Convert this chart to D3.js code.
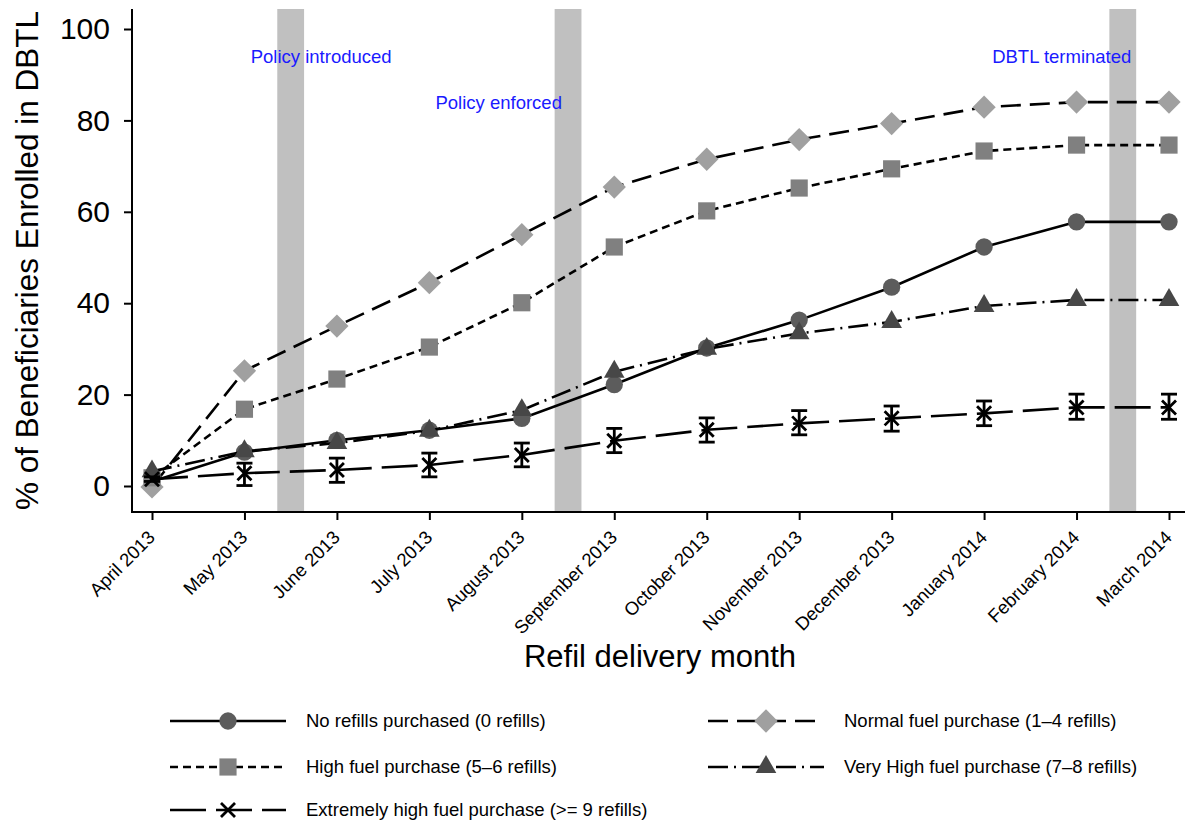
<!DOCTYPE html>
<html>
<head>
<meta charset="utf-8">
<script src="https://cdn.jsdelivr.net/npm/d3@7"></script>
<style>
  body { margin: 0; background: #fff; }
  svg { display: block; font-family: "Liberation Sans", Arial, Helvetica, sans-serif; }
</style>
</head>
<body>
<svg id="chart" width="1185" height="823"></svg>
<script>
const months = ["April 2013", "May 2013", "June 2013", "July 2013", "August 2013", "September 2013",
  "October 2013", "November 2013", "December 2013", "January 2014", "February 2014", "March 2014"];

const noRefills = [1.0, 7.4, 10.0, 12.2, 14.8, 22.2, 30.2, 36.3, 43.5, 52.3, 57.8, 57.8];
const normalFuel = [-0.2, 25.2, 35.0, 44.5, 55.0, 65.4, 71.5, 75.8, 79.3, 82.9, 84.0, 84.0];
const highFuel = [1.8, 16.8, 23.4, 30.4, 40.1, 52.3, 60.2, 65.2, 69.4, 73.3, 74.6, 74.6];
const veryHighFuel = [3.2, 7.6, 9.4, 12.1, 16.6, 25.0, 30.0, 33.4, 35.9, 39.4, 40.7, 40.7];
const extremeFuel = [1.5, 2.8, 3.5, 4.6, 6.8, 9.9, 12.3, 13.7, 14.8, 15.9, 17.2, 17.2];
const extremeLo = [1.0, 0.1, 0.8, 2.0, 4.2, 7.3, 9.6, 11.2, 12.0, 13.2, 14.6, 14.6];
const extremeHi = [2.0, 5.0, 6.1, 7.2, 9.4, 12.6, 14.9, 16.5, 17.5, 18.6, 20.1, 20.1];

const legendLabels = ["No refills purchased (0 refills)", "Normal fuel purchase (1\u20134 refills)",
  "High fuel purchase (5\u20136 refills)", "Very High fuel purchase (7\u20138 refills)",
  "Extremely high fuel purchase (>= 9 refills)"];

const yTicks = [0, 20, 40, 60, 80, 100];

// policy events sit between two delivery months (month index)
const eventAt = [1.5, 4.5, 10.5];
const noteLabels = ["Policy introduced", "Policy enforced", "DBTL terminated"];
const noteX = [1.83, 3.75, 9.84];
const noteY = [92.6, 82.5, 92.6];

const svg = d3.select("#chart");
const plotLeft = 132, plotRight = 1185, plotTop = 9, plotBottom = 512;

const x = d3.scaleLinear().domain([0, months.length - 1]).range([152, 1169]);
const y = d3.scaleLinear().domain([0, 100]).range([486, 29]);

// shaded event bands
const bandW = x(0.29) - x(0);
svg.append("g").selectAll("rect")
  .data(eventAt)
  .enter().append("rect")
  .attr("x", d => x(d) - bandW / 2)
  .attr("y", plotTop)
  .attr("width", bandW)
  .attr("height", plotBottom - plotTop)
  .attr("fill", "#c0c0c0");

// axes
const yAxis = d3.axisLeft(y).tickValues(yTicks).tickSize(8).tickPadding(14);
const gy = svg.append("g").attr("transform", `translate(${plotLeft},0)`).call(yAxis);
gy.select(".domain").remove();
gy.selectAll(".tick line").attr("stroke", "#000").attr("stroke-width", 2);
gy.selectAll(".tick text").style("font-size", "30px").attr("fill", "#000")
  .style("font-family", "'Liberation Sans', Arial, sans-serif");
svg.append("line").attr("x1", plotLeft).attr("x2", plotLeft)
  .attr("y1", plotTop).attr("y2", plotBottom + 1).attr("stroke", "#000").attr("stroke-width", 2);

const xAxis = d3.axisBottom(x).tickValues(d3.range(months.length)).tickFormat(i => months[i]).tickSize(8);
const gx = svg.append("g").attr("transform", `translate(0,${plotBottom})`).call(xAxis);
gx.select(".domain").remove();
gx.selectAll(".tick line").attr("stroke", "#000").attr("stroke-width", 2);
gx.selectAll(".tick text")
  .attr("fill", "#000")
  .style("font-size", "18.5px")
  .style("font-family", "'Liberation Sans', Arial, sans-serif")
  .attr("text-anchor", "end")
  .attr("dy", "0.35em")
  .attr("y", 0)
  .attr("transform", "translate(-1,22) rotate(-45)");
svg.append("line").attr("x1", plotLeft - 1).attr("x2", plotRight)
  .attr("y1", plotBottom).attr("y2", plotBottom).attr("stroke", "#000").attr("stroke-width", 2);

// axis titles
svg.append("text")
  .attr("transform", `translate(38,${(plotTop + plotBottom) / 2}) rotate(-90)`)
  .attr("text-anchor", "middle")
  .style("font-size", "31.5px")
  .text("% of Beneficiaries Enrolled in DBTL");
svg.append("text")
  .attr("x", 660).attr("y", 667)
  .attr("text-anchor", "middle")
  .style("font-size", "31px")
  .text("Refil delivery month");

// notes
svg.append("g").selectAll("text")
  .data(noteLabels)
  .enter().append("text")
  .attr("x", (d, i) => x(noteX[i]))
  .attr("y", (d, i) => y(noteY[i]))
  .attr("text-anchor", "middle")
  .attr("fill", "#1a1aff")
  .style("font-size", "18.5px")
  .text(d => d);

const series = [
  { label: legendLabels[0], values: noRefills, shape: d3.symbolCircle, size: 235, fill: "#5c5c5c", dash: null },
  { label: legendLabels[1], values: normalFuel, shape: d3.symbolDiamond2, size: 345, fill: "#a0a0a0", dash: "20,9" },
  { label: legendLabels[2], values: highFuel, shape: d3.symbolSquare, size: 295, fill: "#808080", dash: "8,5" },
  { label: legendLabels[3], values: veryHighFuel, shape: d3.symbolTriangle, size: 185, fill: "#474747", dash: "20,6,2,6" },
  { label: legendLabels[4], values: extremeFuel, shape: d3.symbolTimes, size: 130, fill: "none", dash: "36,10", stroke: "#000" }
];

const line = d3.line().x((d, i) => x(i)).y(d => y(d));

function drawMarker(sel, s) {
  sel.attr("d", d3.symbol().type(s.shape).size(s.size)());
  if (s.stroke) sel.attr("fill", "none").attr("stroke", s.stroke).attr("stroke-width", 2.8);
  else sel.attr("fill", s.fill).attr("stroke", "none");
}

series.forEach((s, k) => {
  const g = svg.append("g");
  if (k === 4) {
    // confidence intervals
    const bars = g.selectAll(".ci").data(extremeFuel).enter().append("g").attr("class", "ci");
    bars.append("line")
      .attr("x1", (d, i) => x(i)).attr("x2", (d, i) => x(i))
      .attr("y1", (d, i) => y(extremeLo[i])).attr("y2", (d, i) => y(extremeHi[i]));
    bars.append("line")
      .attr("x1", (d, i) => x(i) - 8).attr("x2", (d, i) => x(i) + 8)
      .attr("y1", (d, i) => y(extremeLo[i])).attr("y2", (d, i) => y(extremeLo[i]));
    bars.append("line")
      .attr("x1", (d, i) => x(i) - 8).attr("x2", (d, i) => x(i) + 8)
      .attr("y1", (d, i) => y(extremeHi[i])).attr("y2", (d, i) => y(extremeHi[i]));
    bars.selectAll("line").attr("stroke", "#000").attr("stroke-width", 2.8);
  }
  g.append("path")
    .attr("d", line(s.values))
    .attr("fill", "none")
    .attr("stroke", "#000")
    .attr("stroke-width", 2.6)
    .attr("stroke-dasharray", s.dash);
  g.selectAll(".mk").data(s.values).enter().append("path")
    .attr("class", "mk")
    .attr("transform", (d, i) => `translate(${x(i)},${y(d)})`)
    .call(sel => drawMarker(sel, s));
});

// legend
const legendCols = [170, 708];
const legendRows = [721, 767, 810];
const legend = svg.append("g").selectAll("g")
  .data(series)
  .enter().append("g")
  .attr("transform", (d, i) => `translate(${legendCols[i % 2]},${legendRows[Math.floor(i / 2)]})`);
legend.append("line")
  .attr("x1", 0).attr("x2", 116).attr("y1", 0).attr("y2", 0)
  .attr("stroke", "#000").attr("stroke-width", 2.6)
  .attr("stroke-dasharray", d => d.dash);
legend.append("path")
  .attr("transform", "translate(58,0)")
  .each(function (d) { drawMarker(d3.select(this), d); });
legend.append("text")
  .attr("x", 136).attr("y", 0).attr("dy", "0.35em")
  .style("font-size", "18.5px")
  .text(d => d.label);
</script>
</body>
</html>
